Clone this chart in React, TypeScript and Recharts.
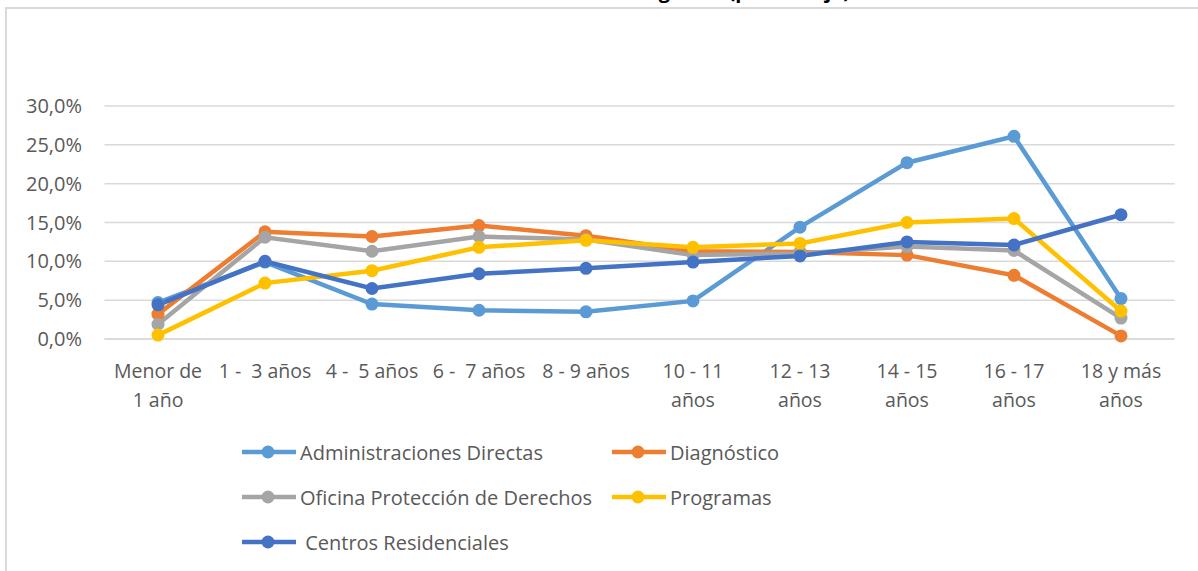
import { CartesianGrid, Line, LineChart, XAxis, YAxis } from "recharts";

const categories = [
  "Menor de\n1 año",
  "1 -  3 años",
  "4 -  5 años",
  "6 -  7 años",
  "8 - 9 años",
  "10 - 11\naños",
  "12 - 13\naños",
  "14 - 15\naños",
  "16 - 17\naños",
  "18 y más\naños",
];

const seriesNames = [
  "Administraciones Directas",
  "Diagnóstico",
  "Oficina Protección de Derechos",
  "Programas",
  " Centros Residenciales",
];

const adminDirectas = [4.7, 9.9, 4.5, 3.7, 3.5, 4.9, 14.4, 22.7, 26.1, 5.2];
const diagnostico = [3.2, 13.8, 13.2, 14.6, 13.3, 11.3, 11.2, 10.8, 8.2, 0.4];
const oficinaProteccion = [1.9, 13.1, 11.3, 13.2, 12.8, 10.8, 11.0, 11.9, 11.4, 2.7];
const programas = [0.5, 7.2, 8.8, 11.8, 12.7, 11.8, 12.3, 15.0, 15.5, 3.6];
const centrosResidenciales = [4.4, 10.0, 6.5, 8.4, 9.1, 9.9, 10.7, 12.5, 12.1, 16.0];

const yTicks = [0, 5, 10, 15, 20, 25, 30];

const title = "Distribución de edades en los ingresos (porcentaje)";

const seriesValues = [adminDirectas, diagnostico, oficinaProteccion, programas, centrosResidenciales];
const keys = ["adm", "dia", "opd", "pro", "cre"];
const colors = ["#5B9BD5", "#ED7D31", "#A5A5A5", "#FFC000", "#4472C4"];

const rows = categories.map((cat, i) => {
  const row: Record<string, string | number> = { cat };
  keys.forEach((k, s) => (row[k] = seriesValues[s][i]));
  return row;
});

const FONT = "'Open Sans', sans-serif";
const TEXT = "#595959";

function XTick({ x, y, payload }: any) {
  const lines = String(payload.value).split("\n");
  return (
    <text x={x} y={y} textAnchor="middle" fill={TEXT} fontSize={19.5} fontFamily={FONT} style={{ whiteSpace: "pre" }}>
      {lines.map((l, i) => (
        <tspan key={i} x={x} dy={i === 0 ? 39 : 29}>
          {l}
        </tspan>
      ))}
    </text>
  );
}

function LegendItem({ i }: { i: number }) {
  return (
    <div style={{ display: "flex", alignItems: "center", height: 45 }}>
      <svg width={54} height={16} style={{ flex: "none" }}>
        <line x1={0} y1={8} x2={54} y2={8} stroke={colors[i]} strokeWidth={4.5} strokeLinecap="round" />
        <circle cx={26} cy={8} r={6.5} fill={colors[i]} />
      </svg>
      <span style={{ marginLeft: 4, whiteSpace: "pre" }}>{seriesNames[i]}</span>
    </div>
  );
}

export default function App() {
  return (
    <div style={{ position: "absolute", left: 0, top: 0, width: 1198, height: 571, overflow: "hidden", background: "#fff" }}>
      <div
        style={{
          position: "absolute",
          left: 5,
          top: 7,
          width: 1193,
          height: 564,
          borderTop: "2px solid #D9D9D9",
          borderLeft: "2px solid #D9D9D9",
          boxSizing: "border-box",
        }}
      />
      <svg width={1198} height={12} style={{ position: "absolute", left: 0, top: 0 }}>
        <text x={850} y={-2} textAnchor="end" fontSize={20} fontWeight="bold" fontFamily={FONT} fill="#000">
          {title}
        </text>
      </svg>
      <div style={{ position: "absolute", left: 0, top: 0 }}>
        <LineChart width={1198} height={571} data={rows} margin={{ top: 106, right: 23.5, left: 0, bottom: 172 }}>
          <CartesianGrid vertical={false} stroke="#D9D9D9" strokeWidth={1.5} />
          <XAxis
            dataKey="cat"
            interval={0}
            padding={{ left: 53.5, right: 53.5 }}
            tickLine={false}
            axisLine={{ stroke: "#D9D9D9", strokeWidth: 1.5 }}
            tickSize={0}
            tickMargin={0}
            height={60}
            tick={<XTick />}
          />
          <YAxis
            width={104.5}
            domain={[0, 30]}
            ticks={yTicks}
            interval={0}
            tickLine={false}
            axisLine={false}
            tickSize={0}
            tickMargin={22.5}
            tickFormatter={(v: number) => `${v.toFixed(1).replace(".", ",")}%`}
            tick={{ fill: TEXT, fontSize: 20, fontFamily: FONT }}
          />
          {keys.map((k, i) => (
            <Line
              key={k}
              dataKey={k}
              name={seriesNames[i]}
              stroke={colors[i]}
              strokeWidth={4.5}
              dot={{ r: 6.5, fill: colors[i], stroke: "none" }}
              activeDot={false}
              isAnimationActive={false}
            />
          ))}
        </LineChart>
      </div>
      <div
        style={{
          position: "absolute",
          left: 242,
          top: 429.5,
          display: "grid",
          gridTemplateColumns: "370px auto",
          fontFamily: FONT,
          fontSize: 20,
          color: TEXT,
        }}
      >
        {seriesNames.map((_, i) => (
          <LegendItem key={i} i={i} />
        ))}
      </div>
    </div>
  );
}
